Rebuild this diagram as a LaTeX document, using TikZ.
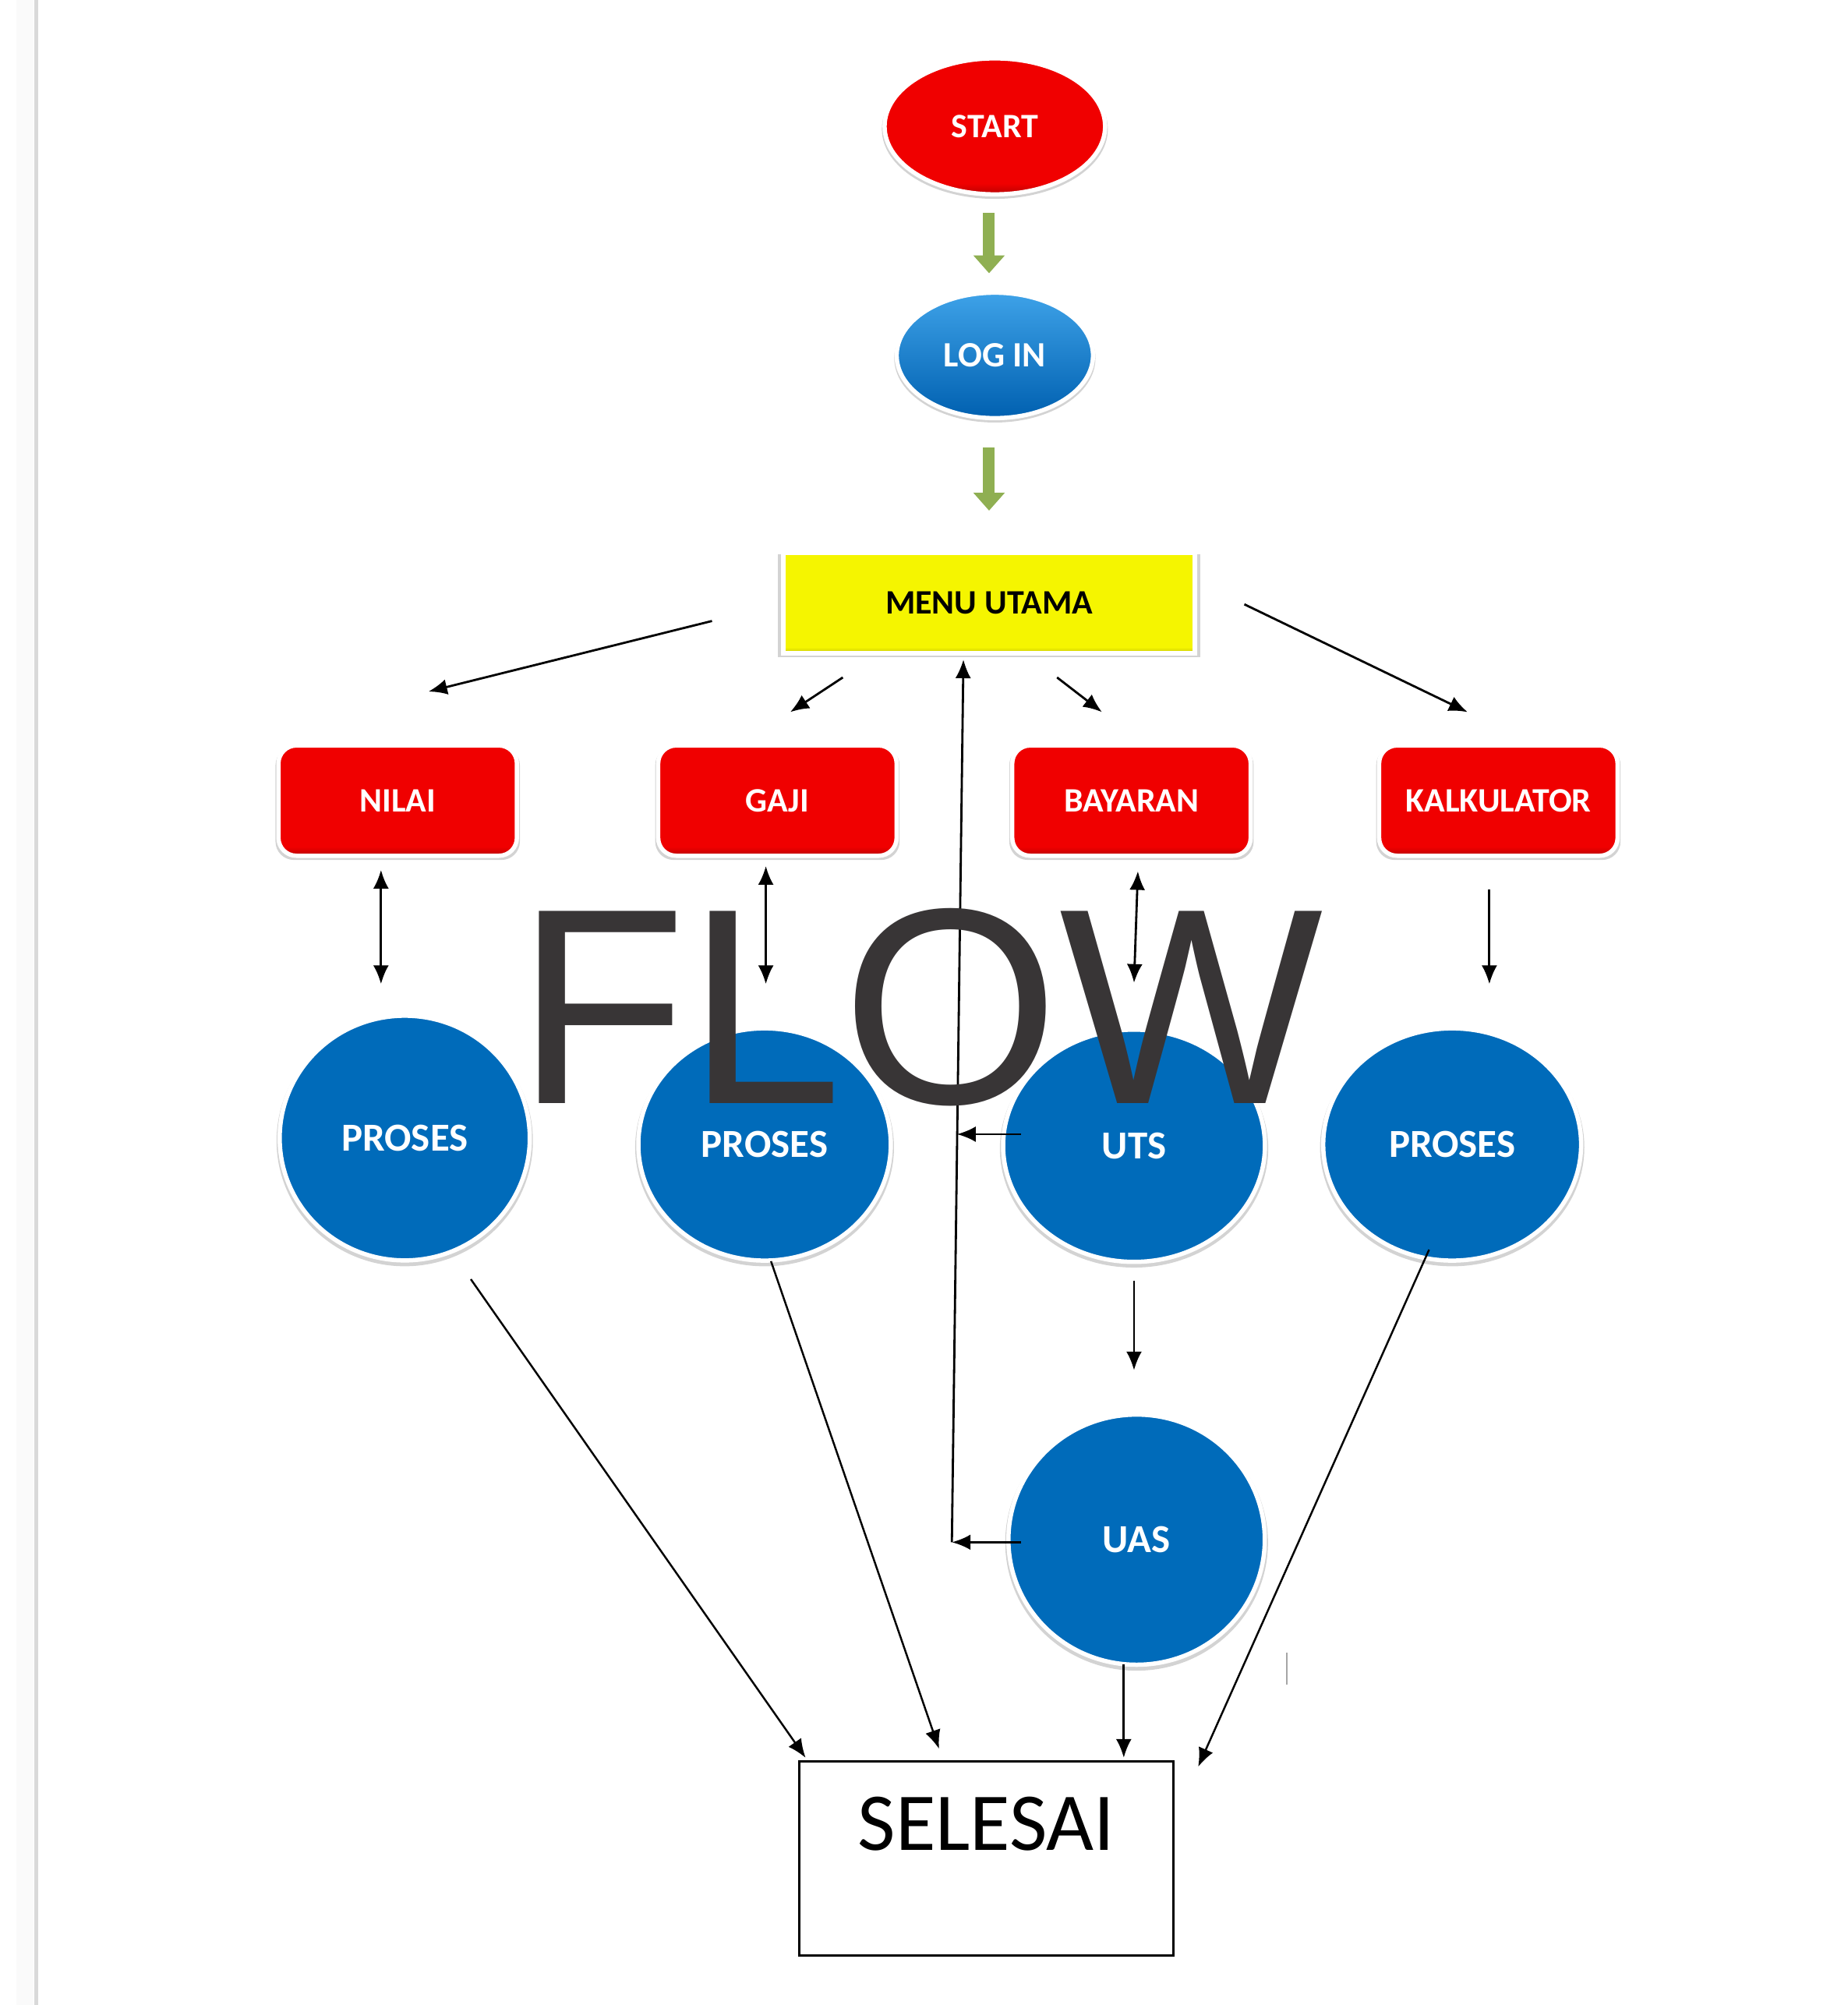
\documentclass[tikz,border=0pt]{standalone}
\usepackage{fontspec}
\setmainfont{Carlito}
\newfontfamily\flowfont{Liberation Sans}
\usetikzlibrary{arrows.meta,shapes.geometric,shadows}

\definecolor{startred}{RGB}{240,0,0}
\definecolor{darkred}{RGB}{185,0,0}
\definecolor{menuyellow}{RGB}{245,245,0}
\definecolor{darkyellow}{RGB}{195,195,0}
\definecolor{procblue}{RGB}{0,107,186}
\definecolor{loginlight}{RGB}{62,162,232}
\definecolor{logindark}{RGB}{0,96,176}
\definecolor{stepgreen}{RGB}{143,175,82}
\definecolor{flowgray}{RGB}{56,53,54}

\pgfdeclareverticalshading{redface}{100bp}{color(0bp)=(darkred); color(25bp)=(darkred); color(29bp)=(startred); color(100bp)=(startred)}
\pgfdeclareverticalshading{yellowface}{100bp}{color(0bp)=(darkyellow); color(25bp)=(darkyellow); color(28bp)=(menuyellow); color(100bp)=(menuyellow)}

\begin{document}
\begin{tikzpicture}[x=0.0164583cm,y=-0.0164583cm,
    rim/.style={draw=white,line width=0.55mm,
      drop shadow={opacity=0.35,shadow xshift=0mm,shadow yshift=-0.35mm,shadow scale=1.025}},
    startnode/.style={ellipse,shading=redface,rim,inner sep=0,
      minimum width=2.83cm,minimum height=1.745cm,text=white,
      font=\bfseries\fontsize{12.5}{15}\selectfont},
    loginnode/.style={ellipse,top color=loginlight,bottom color=logindark,rim,inner sep=0,
      minimum width=2.52cm,minimum height=1.61cm,text=white,
      font=\bfseries\fontsize{13}{15}\selectfont},
    menunode/.style={rectangle,shading=yellowface,rim,inner sep=0,
      minimum width=5.28cm,minimum height=1.29cm,text=black,
      font=\bfseries\fontsize{12.5}{15}\selectfont},
    choice/.style={rectangle,rounded corners=0.23cm,shading=redface,rim,inner sep=0,
      minimum width=3.06cm,minimum height=1.415cm,text=white,
      font=\bfseries\fontsize{12.5}{15}\selectfont},
    proc/.style={ellipse,fill=procblue,rim,inner sep=0,text=white,
      font=\bfseries\fontsize{14.5}{17}\selectfont},
    endbox/.style={rectangle,draw=black,line width=0.9pt,inner sep=0,
      minimum width=4.8cm,text height=11.36mm,text depth=13.5mm,
      font=\fontsize{30}{36}\selectfont},
    stepto/.style={draw=stepgreen,line width=1.5mm,-{Triangle[width=3.9mm,length=2.3mm]}},
    link/.style={line width=0.8pt,-{Latex[length=2.4mm,width=2mm]}},
    twoway/.style={line width=0.8pt,{Latex[length=2.4mm,width=2mm]}-{Latex[length=2.4mm,width=2mm]}}]
    \useasboundingbox (0,0) rectangle (1440,1562.7);
    % page edge
    \fill[gray!4] (13,0) rectangle (26,1562.7);
    \fill[gray!30] (26.5,0) rectangle (30,1562.7);

    \node[startnode] (start) at (775.5,98.5) {START};
    \node[loginnode] (login) at (775.5,277) {LOG IN};
    \node[menunode] (menu) at (771,470) {MENU UTAMA};

    \node[choice] (nilai) at (310,624) {NILAI};
    \node[choice] (gaji) at (606,624) {GAJI};
    \node[choice] (bayaran) at (882,624) {BAYARAN};
    \node[choice] (kalk) at (1168,624) {KALKULATOR};

    \node[proc,minimum width=3.21cm,minimum height=3.14cm] (proses1) at (315.5,887) {PROSES};
    \node[proc,minimum width=3.24cm,minimum height=2.98cm] (proses2) at (596,892) {PROSES};
    \node[proc,minimum width=3.36cm,minimum height=2.98cm] (uts) at (884,893) {UTS};
    \node[proc,minimum width=3.31cm,minimum height=2.98cm] (proses4) at (1132,892) {PROSES};
    \node[proc,minimum width=3.29cm,minimum height=3.21cm] (uas) at (886,1200) {UAS};

    \node[endbox] (selesai) at (769,1448.5) {SELESAI};

    % arrow ends
    \coordinate (g1a) at (771,166);
    \coordinate (g1b) at (771,213);
    \coordinate (g2a) at (771,349);
    \coordinate (g2b) at (771,398);
    \coordinate (m1a) at (555,484);
    \coordinate (m1b) at (334,539);
    \coordinate (m2a) at (657,528);
    \coordinate (m2b) at (616,555);
    \coordinate (m3a) at (824,528);
    \coordinate (m3b) at (859,555);
    \coordinate (m4a) at (970,471);
    \coordinate (m4b) at (1144,555);
    \coordinate (n1a) at (297,678);
    \coordinate (n1b) at (297,767);
    \coordinate (n2a) at (597,675);
    \coordinate (n2b) at (597,767);
    \coordinate (n3a) at (887,679);
    \coordinate (n3b) at (884,766);
    \coordinate (n4a) at (1161,693);
    \coordinate (n4b) at (1161,767);
    \coordinate (utsL) at (796,884);
    \coordinate (utsR) at (746,884);
    \coordinate (uasL) at (796,1202);
    \coordinate (back) at (742,1202);
    \coordinate (menuB) at (751,514);
    \coordinate (u1a) at (884,998);
    \coordinate (u1b) at (884,1068);
    \coordinate (s1a) at (367,997);
    \coordinate (s1b) at (628,1370);
    \coordinate (s2a) at (601,983);
    \coordinate (s2b) at (732,1363);
    \coordinate (s3a) at (876,1297);
    \coordinate (s3b) at (876,1370);
    \coordinate (s4a) at (1114,974);
    \coordinate (s4b) at (934,1377);

    \draw[stepto] (g1a) -- (g1b);
    \draw[stepto] (g2a) -- (g2b);
    \draw[link] (m1a) -- (m1b);
    \draw[link] (m2a) -- (m2b);
    \draw[link] (m3a) -- (m3b);
    \draw[link] (m4a) -- (m4b);
    \draw[twoway] (n1a) -- (n1b);
    \draw[twoway] (n2a) -- (n2b);
    \draw[twoway] (n3a) -- (n3b);
    \draw[link] (n4a) -- (n4b);
    \draw[link] (utsL) -- (utsR);
    \draw[link] (uasL) -- (back);
    \draw[link] (back) -- (menuB);
    \draw[link] (u1a) -- (u1b);
    \draw[link,line width=0.7pt] (s1a) -- (s1b);
    \draw[link,line width=0.7pt] (s2a) -- (s2b);
    \draw[link] (s3a) -- (s3b);
    \draw[link,line width=0.7pt] (s4a) -- (s4b);
    \draw[gray!70,line width=0.5pt] (1003,1288) -- (1003,1313);

    \node[font=\flowfont\fontsize{102}{102}\selectfont,text=flowgray,anchor=base,inner sep=0] (flow) at (717,860) {FLOW};
\end{tikzpicture}
\end{document}
